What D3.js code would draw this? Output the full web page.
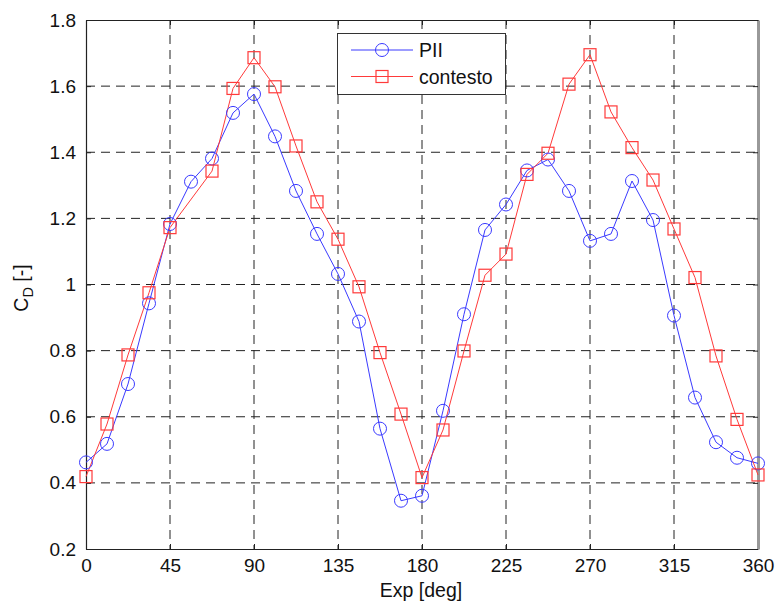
<!DOCTYPE html>
<html>
<head>
<meta charset="utf-8">
<script src="https://cdn.jsdelivr.net/npm/d3@7/dist/d3.min.js"></script>
<style>
  html, body { margin: 0; padding: 0; background: #fff; }
  svg { display: block; font-family: "Liberation Sans", Arial, sans-serif; }
</style>
</head>
<body>
<svg id="chart" width="780" height="606"></svg>
<script>
// Exposure angle (deg), sampled every 11.25 deg
const angles = d3.range(0, 33).map(k => k * 11.25);

// Drag coefficient, PII series
const cdPII = [0.462, 0.518, 0.699, 0.943, 1.183, 1.311, 1.381, 1.519, 1.576,
  1.448, 1.283, 1.153, 1.032, 0.888, 0.564, 0.346, 0.361, 0.618, 0.910, 1.165,
  1.242, 1.345, 1.378, 1.283, 1.132, 1.153, 1.313, 1.195, 0.906, 0.658, 0.523,
  0.476, 0.459];

// Drag coefficient, contesto series (no sample at 56.25 deg)
const cdContesto = [0.419, 0.578, 0.787, 0.975, 1.172, null, 1.343, 1.593, 1.686,
  1.598, 1.419, 1.250, 1.137, 0.993, 0.794, 0.608, 0.416, 0.560, 0.799, 1.028,
  1.092, 1.333, 1.397, 1.606, 1.695, 1.522, 1.414, 1.316, 1.168, 1.021, 0.784,
  0.592, 0.424];

const xTicks = [0, 45, 90, 135, 180, 225, 270, 315, 360];
const yTicks = [0.2, 0.4, 0.6, 0.8, 1.0, 1.2, 1.4, 1.6, 1.8];
const seriesNames = ["PII", "contesto"];

const svg = d3.select("#chart");
const plotL = 86, plotR = 758, plotT = 20, plotB = 549;

const x = d3.scaleLinear().domain([0, 360]).range([plotL, plotR]);
const y = d3.scaleLinear().domain([0.2, 1.8]).range([plotB, plotT]);

const blue = "#3a3aff", red = "#ff3a3a";

// Grid
const grid = svg.append("g").attr("stroke", "#222").attr("stroke-width", 1)
  .attr("stroke-dasharray", "9,6").attr("fill", "none");
xTicks.filter(t => t > 0 && t < 360).forEach(t => {
  grid.append("line").attr("x1", x(t)).attr("x2", x(t)).attr("y1", plotT).attr("y2", plotB);
});
yTicks.filter(t => t > 0.2 && t < 1.8).forEach(t => {
  grid.append("line").attr("x1", plotL).attr("x2", plotR).attr("y1", y(t)).attr("y2", y(t));
});

// Axes (box with inward ticks)
const fmtY = d => (d === 1 ? "1" : d3.format(".1f")(d));
const axB = svg.append("g").attr("transform", `translate(0,${plotB})`)
  .call(d3.axisBottom(x).tickValues(xTicks).tickSizeInner(-5).tickSizeOuter(0).tickPadding(10));
const axL = svg.append("g").attr("transform", `translate(${plotL},0)`)
  .call(d3.axisLeft(y).tickValues(yTicks).tickFormat(fmtY).tickSizeInner(-5).tickSizeOuter(0).tickPadding(10));
const axT = svg.append("g").attr("transform", `translate(0,${plotT})`)
  .call(d3.axisTop(x).tickValues(xTicks).tickSizeInner(-5).tickSizeOuter(0).tickFormat(""));
const axR = svg.append("g").attr("transform", `translate(${plotR},0)`)
  .call(d3.axisRight(y).tickValues(yTicks).tickSizeInner(-5).tickSizeOuter(0).tickFormat(""));

[axB, axL, axT, axR].forEach(a => {
  a.select(".domain").attr("stroke", "#222").attr("stroke-width", 1.2);
  a.selectAll(".tick line").attr("stroke", "#222");
  a.selectAll(".tick text").attr("fill", "#111").attr("font-size", 19)
    .attr("font-family", "'Liberation Sans', Arial, sans-serif");
});
axR.select(".domain").attr("stroke", "#999").attr("stroke-width", 3);
axB.selectAll(".tick text").attr("dy", "0.71em");

// Axis titles
svg.append("text").attr("x", (plotL + plotR) / 2 - 1).attr("y", 597)
  .attr("text-anchor", "middle").attr("font-size", 19.5).attr("fill", "#111")
  .text("Exp [deg]");

const yl = svg.append("text").attr("transform", "translate(28,288) rotate(-90)")
  .attr("text-anchor", "middle").attr("font-size", 19.5).attr("fill", "#111");
yl.append("tspan").text("C");
yl.append("tspan").attr("font-size", 14.5).attr("dy", 5).text("D");
yl.append("tspan").attr("dy", -5).text(" [-]");

// Series
const ptsPII = angles.map((a, i) => ({ a, v: cdPII[i] }));
const ptsCon = angles.map((a, i) => ({ a, v: cdContesto[i] })).filter(d => d.v !== null);

const line = d3.line().x(d => x(d.a)).y(d => y(d.v));

svg.append("path").datum(ptsPII).attr("d", line)
  .attr("fill", "none").attr("stroke", blue).attr("stroke-width", 1);
svg.append("path").datum(ptsCon).attr("d", line)
  .attr("fill", "none").attr("stroke", red).attr("stroke-width", 1);

svg.append("g").selectAll("circle").data(ptsPII).join("circle")
  .attr("cx", d => x(d.a)).attr("cy", d => y(d.v)).attr("r", 6.5)
  .attr("fill", "none").attr("stroke", blue).attr("stroke-width", 1);

const sq = 12;
svg.append("g").selectAll("rect").data(ptsCon).join("rect")
  .attr("x", d => x(d.a) - sq / 2).attr("y", d => y(d.v) - sq / 2)
  .attr("width", sq).attr("height", sq)
  .attr("fill", "none").attr("stroke", red).attr("stroke-width", 1.2);

// Legend
const lg = svg.append("g");
lg.append("rect").attr("x", 337.5).attr("y", 33.5).attr("width", 168).attr("height", 61)
  .attr("fill", "#fff").attr("stroke", "#333").attr("stroke-width", 1);
const rows = [
  { name: seriesNames[0], color: blue, y: 50, shape: "circle" },
  { name: seriesNames[1], color: red, y: 76.5, shape: "square" }
];
rows.forEach(r => {
  lg.append("line").attr("x1", 351).attr("x2", 413).attr("y1", r.y).attr("y2", r.y)
    .attr("stroke", r.color).attr("stroke-width", 1);
  if (r.shape === "circle") {
    lg.append("circle").attr("cx", 382).attr("cy", r.y).attr("r", 6.5)
      .attr("fill", "none").attr("stroke", r.color);
  } else {
    lg.append("rect").attr("x", 382 - sq / 2).attr("y", r.y - sq / 2).attr("width", sq).attr("height", sq)
      .attr("fill", "none").attr("stroke", r.color).attr("stroke-width", 1.2);
  }
  lg.append("text").attr("x", 419).attr("y", r.y + 7).attr("font-size", 19.5)
    .attr("fill", "#111").text(r.name);
});
</script>
</body>
</html>
